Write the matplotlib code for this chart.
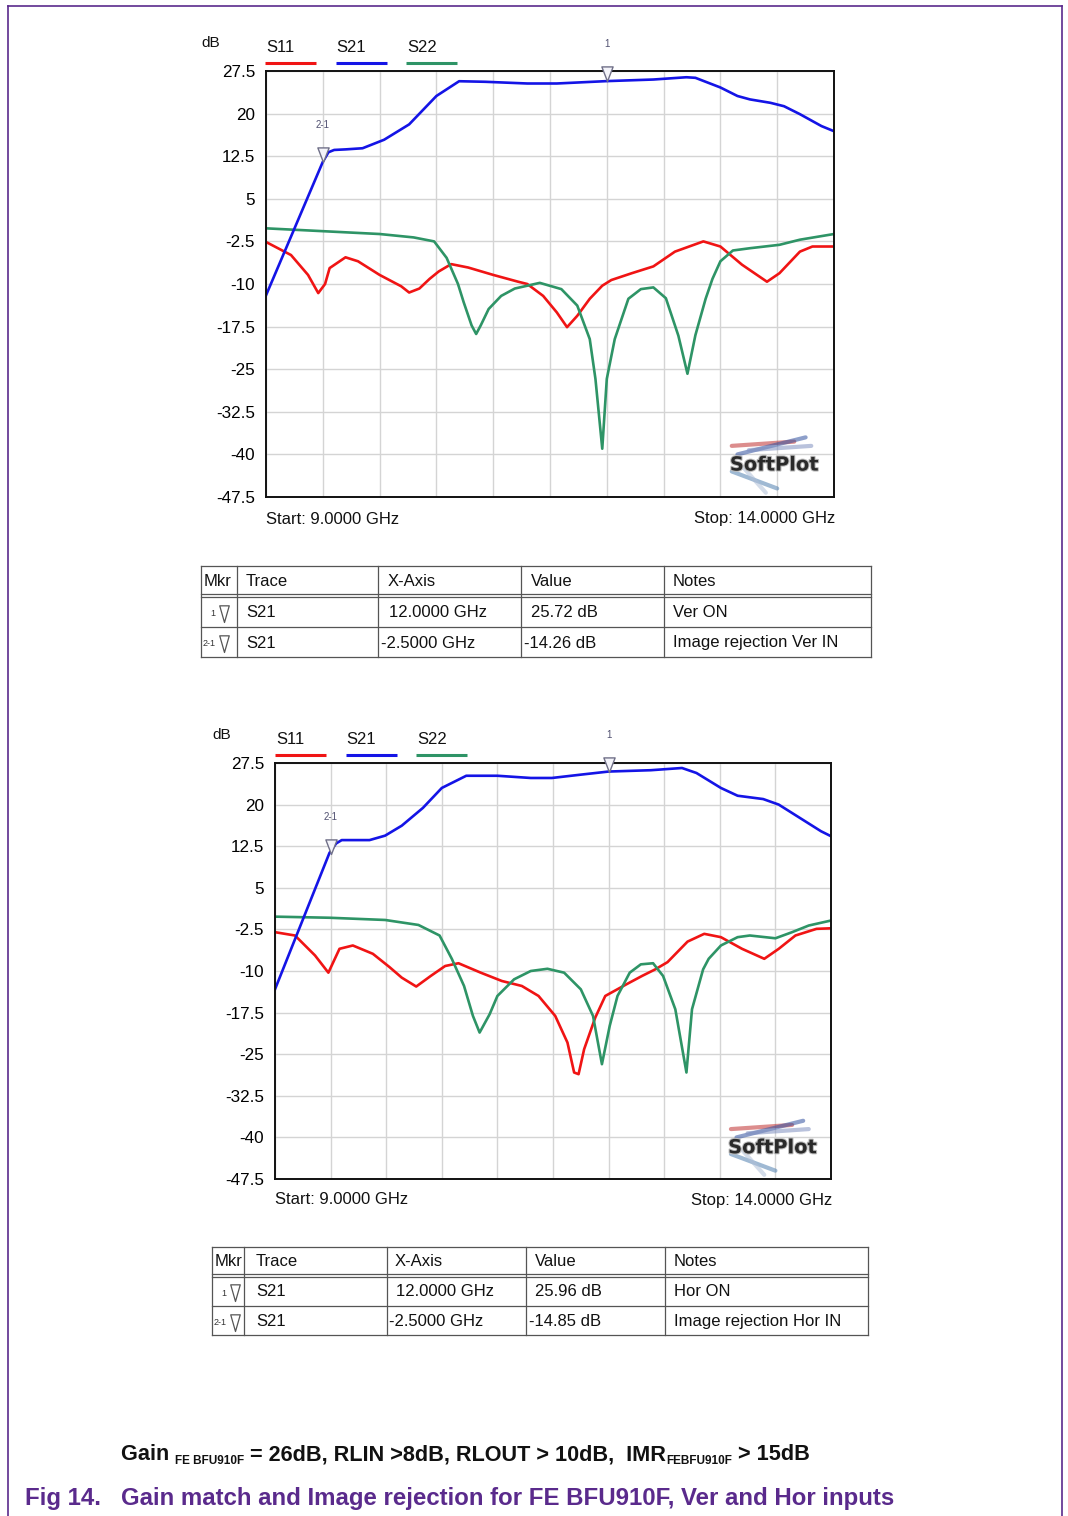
import matplotlib
matplotlib.use('Agg')
import matplotlib.pyplot as plt
from matplotlib.path import Path
from matplotlib.markers import MarkerStyle
import matplotlib.patheffects as pe
import numpy as np

plt.rcParams['font.family'] = ['Liberation Sans', 'DejaVu Sans']

# ---------------- data ----------------
series_names = ['S11', 'S21', 'S22']
y_ticks = [-47.5, -40, -32.5, -25, -17.5, -10, -2.5, 5, 12.5, 20, 27.5]
y_tick_labels = ['-47.5', '-40', '-32.5', '-25', '-17.5', '-10', '-2.5', '5', '12.5', '20', '27.5']
x_grid = [9.0, 9.5, 10.0, 10.5, 11.0, 11.5, 12.0, 12.5, 13.0, 13.5, 14.0]

# Plot 1 (Ver input)
ver_s21_f = [9.0, 9.5, 9.55, 9.6, 9.7, 9.85, 10.04, 10.26, 10.5, 10.7, 10.93, 11.3, 11.56, 12.0,
             12.41, 12.70, 12.78, 13.0, 13.15, 13.26, 13.44, 13.56, 13.70, 13.89, 14.0]
ver_s21_v = [-12.0, 11.5, 13.2, 13.6, 13.7, 13.9, 15.4, 18.1, 23.1, 25.7, 25.6, 25.3, 25.3, 25.72,
             26.0, 26.4, 26.3, 24.6, 23.1, 22.5, 21.9, 21.3, 19.9, 17.8, 16.9]
ver_s11_f = [9.0, 9.22, 9.37, 9.46, 9.52, 9.56, 9.70, 9.81, 10.0, 10.19, 10.26, 10.35, 10.44, 10.52,
             10.63, 10.78, 11.0, 11.22, 11.3, 11.44, 11.56, 11.65, 11.74, 11.85, 11.96, 12.04, 12.22,
             12.41, 12.6, 12.85, 13.0, 13.19, 13.41, 13.52, 13.7, 13.81, 14.0]
ver_s11_v = [-2.6, -4.9, -8.4, -11.6, -10.0, -7.2, -5.3, -6.0, -8.4, -10.4, -11.5, -10.8, -9.1, -7.8,
             -6.5, -7.1, -8.4, -9.6, -10.0, -12.1, -15.0, -17.6, -15.6, -12.6, -10.3, -9.3, -8.1,
             -6.9, -4.3, -2.5, -3.4, -6.6, -9.6, -8.1, -4.3, -3.4, -3.4]
ver_s22_f = [9.0, 9.5, 10.0, 10.3, 10.48, 10.59, 10.69, 10.74, 10.81, 10.85, 10.89, 10.96, 11.07,
             11.19, 11.41, 11.6, 11.74, 11.85, 11.9, 11.96, 12.0, 12.07, 12.19, 12.3, 12.41, 12.52,
             12.63, 12.71, 12.78, 12.87, 12.93, 13.0, 13.11, 13.26, 13.52, 13.7, 14.0]
ver_s22_v = [-0.2, -0.7, -1.2, -1.8, -2.5, -5.4, -10.0, -13.2, -17.3, -18.8, -17.3, -14.4, -12.1,
             -10.8, -9.8, -10.9, -13.8, -19.7, -26.7, -39.0, -26.7, -19.7, -12.6, -10.9, -10.6, -12.5,
             -19.1, -25.8, -19.0, -12.6, -9.1, -6.0, -4.1, -3.7, -3.1, -2.2, -1.2]

# Plot 2 (Hor input)
hor_s21_f = [9.0, 9.49, 9.55, 9.6, 9.85, 9.99, 10.14, 10.33, 10.5, 10.72, 11.0, 11.3, 11.49, 11.75,
             12.0, 12.38, 12.66, 12.79, 13.01, 13.16, 13.39, 13.53, 13.72, 13.91, 14.0]
hor_s21_v = [-13.3, 11.3, 13.0, 13.6, 13.6, 14.4, 16.2, 19.4, 23.0, 25.2, 25.2, 24.8, 24.8, 25.4,
             25.96, 26.2, 26.6, 25.7, 23.0, 21.6, 21.0, 20.0, 17.6, 15.2, 14.3]
hor_s11_f = [9.0, 9.18, 9.36, 9.48, 9.58, 9.7, 9.88, 10.03, 10.14, 10.27, 10.4, 10.53, 10.65, 10.85,
             11.04, 11.22, 11.37, 11.52, 11.63, 11.69, 11.73, 11.78, 11.88, 11.97, 12.16, 12.3,
             12.42, 12.53, 12.71, 12.86, 13.01, 13.2, 13.4, 13.53, 13.68, 13.87, 14.0]
hor_s11_v = [-3.0, -3.6, -7.2, -10.3, -6.0, -5.4, -6.9, -9.3, -11.2, -12.8, -10.9, -9.1, -8.6, -10.3,
             -11.8, -12.7, -14.5, -18.1, -22.9, -28.3, -28.6, -24.1, -18.4, -14.5, -12.4, -10.9,
             -9.7, -8.4, -4.7, -3.3, -3.9, -6.0, -7.8, -6.0, -3.6, -2.4, -2.3]
hor_s22_f = [9.0, 9.49, 9.99, 10.29, 10.48, 10.59, 10.7, 10.78, 10.84, 10.93, 11.0, 11.15, 11.3,
             11.45, 11.6, 11.75, 11.86, 11.94, 12.01, 12.08, 12.19, 12.29, 12.4, 12.49, 12.6, 12.7,
             12.75, 12.85, 12.9, 13.01, 13.16, 13.27, 13.5, 13.65, 13.8, 14.0]
hor_s22_v = [-0.2, -0.4, -0.8, -1.7, -3.6, -7.8, -12.7, -18.1, -21.1, -17.8, -14.5, -11.5, -10.0,
             -9.6, -10.3, -13.3, -18.1, -26.8, -19.9, -14.5, -10.3, -8.8, -8.6, -10.9, -16.9, -28.3,
             -16.9, -9.7, -7.8, -5.4, -3.9, -3.6, -4.1, -3.0, -1.8, -0.9]

# markers: (label, freq, value)
ver_markers = [('1', 12.0, 25.72), ('2-1', 9.5, 25.72 - 14.26)]
hor_markers = [('1', 12.0, 25.96), ('2-1', 9.5, 25.96 - 14.85)]

table_header = ['Mkr', 'Trace', 'X-Axis', 'Value', 'Notes']
ver_table = [['1', 'S21', ' 12.0000 GHz', ' 25.72 dB', 'Ver ON'],
             ['2-1', 'S21', '-2.5000 GHz', '-14.26 dB', 'Image rejection Ver IN']]
hor_table = [['1', 'S21', ' 12.0000 GHz', ' 25.96 dB', 'Hor ON'],
             ['2-1', 'S21', '-2.5000 GHz', '-14.85 dB', 'Image rejection Hor IN']]

colors = {'S11': '#f01414', 'S21': '#1414e6', 'S22': '#2e9466'}
PURPLE = '#5a2a8c'

# ---------------- figure ----------------
W, H = 1068, 1516
fig = plt.figure(figsize=(W / 100, H / 100), dpi=100)
ov = fig.add_axes([0, 0, 1, 1])
ov.set_xlim(0, W)
ov.set_ylim(H, 0)
ov.axis('off')

# page border
ov.plot([8, 8], [6, H], color=PURPLE, lw=1.2)
ov.plot([8, 1062], [6, 6], color=PURPLE, lw=1.2)
ov.plot([1062, 1062], [6, H], color=PURPLE, lw=1.2)

tri_path = Path([(-0.52, 1.35), (0.52, 1.35), (0.0, 0.0), (-0.52, 1.35)],
                [Path.MOVETO, Path.LINETO, Path.LINETO, Path.CLOSEPOLY])
tri_marker = MarkerStyle(tri_path)
tri_path2 = Path([(-0.4, 1.4), (0.4, 1.4), (0.0, 0.0), (-0.4, 1.4)],
                 [Path.MOVETO, Path.LINETO, Path.LINETO, Path.CLOSEPOLY])
tri_marker2 = MarkerStyle(tri_path2)


def make_plot(box, data, markers, legend_xy, db_xy, text_y):
    x0, y0, x1, y1 = box
    ax = fig.add_axes([x0 / W, 1 - y1 / H, (x1 - x0) / W, (y1 - y0) / H])
    ax.set_xlim(9.0, 14.0)
    ax.set_ylim(-47.5, 27.5)
    ax.set_xticks(x_grid)
    ax.set_xticklabels([])
    ax.set_yticks(y_ticks)
    ax.set_yticklabels(y_tick_labels, fontsize=12.3)
    ax.tick_params(length=0, pad=8)
    ax.tick_params(axis='x', pad=0)
    ax.grid(True, color='#d4d4d4', lw=1.0)
    for s in ax.spines.values():
        s.set_linewidth(1.4)
        s.set_color('#111111')
    ax.set_axisbelow(True)

    # logo
    rng_lines = [(0.82, 0.12, 0.93, 0.13), (0.83, 0.10, 0.95, 0.14), (0.85, 0.11, 0.96, 0.12),
                 (0.82, 0.06, 0.90, 0.02), (0.84, 0.07, 0.88, 0.01)]
    for i, (a, b, c, d) in enumerate(rng_lines):
        col = ['#c03030', '#3050a0', '#8090c0', '#5080b0', '#b0c0d8'][i]
        ax.plot([a, c], [b, d], transform=ax.transAxes, color=col, lw=3, alpha=0.55,
                solid_capstyle='round')
    ax.text(0.895, 0.075, 'SoftPlot', transform=ax.transAxes, ha='center', va='center',
            fontsize=14, fontweight='bold', color='#2a2a2a', fontfamily='DejaVu Sans',
            path_effects=[pe.withStroke(linewidth=1.5, foreground='#bbbbbb')])

    for name in ['S11', 'S22', 'S21']:
        f, v = data[name]
        ax.plot(f, v, color=colors[name], lw=1.9, solid_joinstyle='round')

    for lab, f, v in markers:
        ax.plot([f], [v], marker=tri_marker, markersize=21, markerfacecolor='#f4f4fa',
                markeredgecolor='#707088', markeredgewidth=1.0, clip_on=False, zorder=5)
        ax.annotate(lab, (f, v), xytext=(0, 23), textcoords='offset points', ha='center',
                    va='bottom', fontsize=7, color='#505070', annotation_clip=False)

    # legend
    lx, ly = legend_xy
    for i, name in enumerate(series_names):
        ov.text(lx + i * 70.5, ly, name, fontsize=12, ha='left', va='center', color='#111111')
        ov.plot([lx - 1 + i * 70.5, lx + 50 + i * 70.5], [ly + 15, ly + 15], color=colors[name],
                lw=2.2, solid_capstyle='butt')
    ov.text(db_xy[0], db_xy[1], 'dB', fontsize=11, ha='left', va='center', color='#111111')
    ov.text(x0, text_y, 'Start: 9.0000 GHz', fontsize=12, ha='left', va='center', color='#111111')
    ov.text(x1 + 1, text_y, 'Stop: 14.0000 GHz', fontsize=12, ha='right', va='center',
            color='#111111')
    return ax


make_plot((266, 71, 834, 497),
          {'S11': (ver_s11_f, ver_s11_v), 'S21': (ver_s21_f, ver_s21_v),
           'S22': (ver_s22_f, ver_s22_v)},
          ver_markers, (266, 48), (201, 43), 519)
make_plot((275, 763, 831, 1179),
          {'S11': (hor_s11_f, hor_s11_v), 'S21': (hor_s21_f, hor_s21_v),
           'S22': (hor_s22_f, hor_s22_v)},
          hor_markers, (276, 740), (212, 735), 1200)


def make_table(cols, rows_y, rows, text_x):
    lc = '#555555'
    top, hb, r1, bot = rows_y
    ov.plot([cols[0], cols[-1]], [top, top], color=lc, lw=0.9)
    ov.plot([cols[0], cols[-1]], [hb - 2, hb - 2], color=lc, lw=0.9)
    ov.plot([cols[0], cols[-1]], [hb + 1, hb + 1], color=lc, lw=0.9)
    ov.plot([cols[0], cols[-1]], [r1, r1], color=lc, lw=0.9)
    ov.plot([cols[0], cols[-1]], [bot, bot], color=lc, lw=0.9)
    for c in cols:
        ov.plot([c, c], [top, bot], color=lc, lw=0.9)
    ys = [(top + hb) / 2, (hb + r1) / 2 + 1, (r1 + bot) / 2 + 1]
    for j, h in enumerate(table_header):
        ov.text(text_x[j][0], ys[0], h, fontsize=12, ha='left', va='center', color='#111111')
    for i, row in enumerate(rows):
        y = ys[i + 1]
        mk = row[0]
        ov.text(cols[0] + (9 if mk == '1' else 2), y + 1, mk, fontsize=6.5, ha='left',
                va='center', color='#333333')
        ov.plot([cols[0] + 23], [y + 9], marker=tri_marker2, markersize=24,
                markerfacecolor='white', markeredgecolor='#555555', markeredgewidth=0.9)
        for j in range(1, 5):
            ov.text(text_x[j][i + 1], y, row[j].strip(), fontsize=12, ha='left', va='center',
                    color='#111111')


make_table([201, 237, 378, 521, 664, 871], (566, 596, 627, 657), ver_table,
           [(204,), (246, 246, 246), (388, 389, 381), (531, 531, 524), (673, 673, 673)])
make_table([212, 244, 387, 526, 665, 868], (1247, 1276, 1306, 1335), hor_table,
           [(215,), (256, 256, 256), (395, 396, 389), (535, 535, 529), (674, 674, 674)])

# caption line with subscripts
renderer = fig.canvas.get_renderer()
pieces = [('Gain ', 15.6, 0), ('FE BFU910F', 8.5, 4), (' = 26dB, RLIN >8dB, RLOUT > 10dB,  IMR', 15.6, 0),
          ('FEBFU910F', 8.5, 4), (' > 15dB', 15.6, 0)]
x = 121
for txt, fs, dy in pieces:
    t = ov.text(x, 1460 + dy, txt, fontsize=fs, fontweight='bold', ha='left', va='baseline',
                color='#111111')
    x += t.get_window_extent(renderer).width

ov.text(25, 1498, 'Fig 14.', fontsize=17.3, fontweight='bold', ha='left', va='center', color=PURPLE)
ov.text(121, 1498, 'Gain match and Image rejection for FE BFU910F, Ver and Hor inputs', fontsize=17.3,
        fontweight='bold', ha='left', va='center', color=PURPLE)

fig.savefig('out.png', dpi=100)
